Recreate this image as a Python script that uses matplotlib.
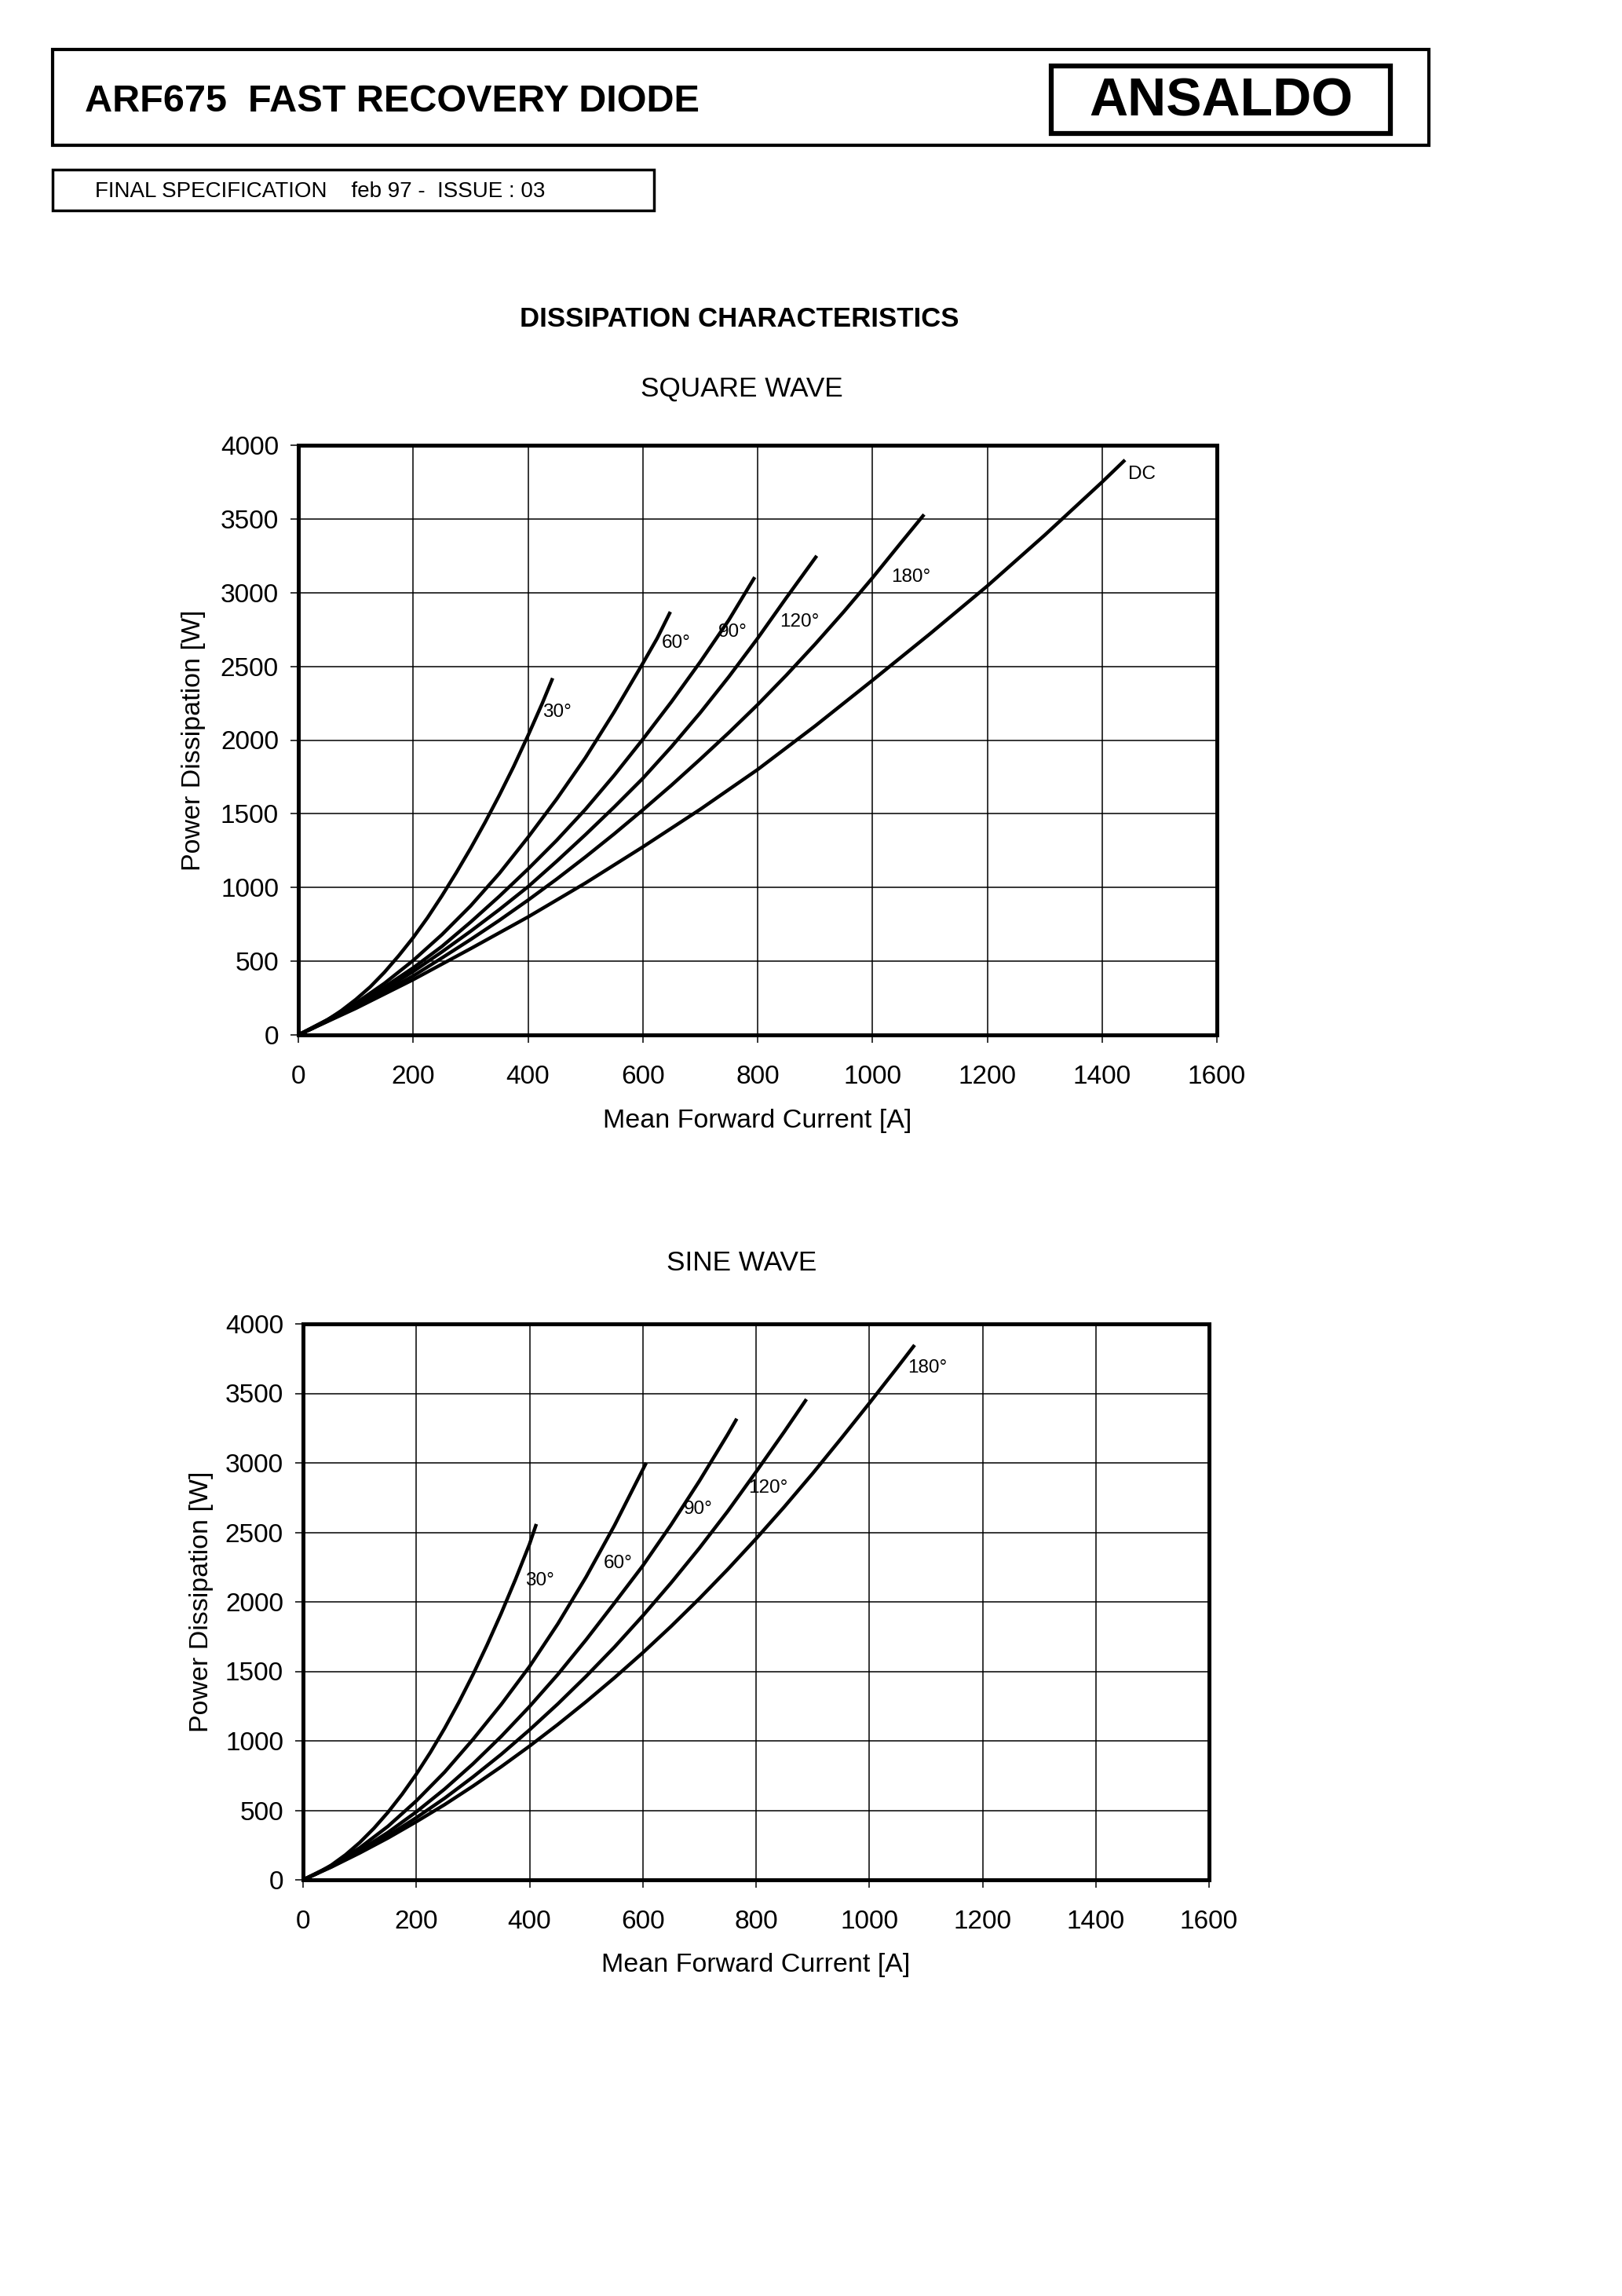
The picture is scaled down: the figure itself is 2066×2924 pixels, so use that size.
import matplotlib
matplotlib.use("Agg")
import matplotlib.pyplot as plt
from matplotlib.patches import Rectangle

plt.rcParams['font.family'] = ['Liberation Sans', 'DejaVu Sans']

# ---------------- data ----------------
x_ticks = [0, 200, 400, 600, 800, 1000, 1200, 1400, 1600]
y_ticks = [0, 500, 1000, 1500, 2000, 2500, 3000, 3500, 4000]

# Square wave: mean forward current [A] / power dissipation [W]
sq_30_i = [0, 25, 50, 75, 100, 125, 150, 175, 200, 225, 250, 275, 300, 325, 350, 375, 400, 425, 443]
sq_30_p = [0, 45, 100, 165, 240, 325, 425, 538, 660, 795, 943, 1100, 1265, 1440, 1625, 1820, 2030, 2250, 2420]
sq_60_i = [0, 50, 100, 150, 200, 250, 300, 350, 400, 450, 500, 550, 600, 625, 648]
sq_60_p = [0, 102, 215, 350, 505, 680, 875, 1095, 1340, 1600, 1880, 2190, 2520, 2690, 2870]
sq_90_i = [0, 50, 100, 150, 200, 250, 300, 350, 400, 450, 500, 550, 600, 650, 700, 750, 795]
sq_90_p = [0, 100, 205, 325, 455, 600, 765, 940, 1125, 1320, 1530, 1760, 2005, 2260, 2530, 2815, 3105]
sq_120_i = [0, 50, 100, 150, 200, 250, 300, 350, 400, 450, 500, 550, 600, 650, 700, 750, 800, 850, 903]
sq_120_p = [0, 95, 198, 310, 430, 563, 703, 850, 1005, 1178, 1358, 1545, 1740, 1955, 2185, 2430, 2690, 2965, 3250]
sq_180_i = [0, 50, 100, 150, 200, 250, 300, 350, 400, 450, 500, 550, 600, 650, 700, 750, 800, 850, 900, 950, 1000, 1050, 1090]
sq_180_p = [0, 92, 190, 294, 400, 522, 647, 777, 914, 1057, 1207, 1363, 1526, 1694, 1870, 2051, 2240, 2440, 2650, 2870, 3100, 3340, 3530]
sq_dc_i = [0, 100, 200, 300, 400, 500, 600, 700, 800, 900, 1000, 1100, 1200, 1300, 1400, 1440]
sq_dc_p = [0, 180, 375, 585, 800, 1030, 1275, 1530, 1800, 2095, 2405, 2720, 3045, 3390, 3750, 3900]

# Sine wave
sn_30_i = [0, 25, 50, 75, 100, 125, 150, 175, 200, 225, 250, 275, 300, 325, 350, 375, 400, 412]
sn_30_p = [0, 46, 106, 180, 268, 370, 486, 616, 760, 918, 1090, 1276, 1476, 1690, 1918, 2160, 2416, 2560]
sn_60_i = [0, 50, 100, 150, 200, 250, 300, 350, 400, 450, 500, 550, 606]
sn_60_p = [0, 102, 230, 385, 568, 775, 1010, 1262, 1535, 1842, 2180, 2550, 3000]
sn_90_i = [0, 50, 100, 150, 200, 250, 300, 350, 400, 450, 500, 550, 600, 650, 700, 750, 766]
sn_90_p = [0, 97, 211, 341, 489, 653, 834, 1032, 1247, 1478, 1728, 1992, 2260, 2555, 2870, 3205, 3318]
sn_120_i = [0, 50, 100, 150, 200, 250, 300, 350, 400, 450, 500, 550, 600, 650, 700, 750, 800, 850, 889]
sn_120_p = [0, 94, 200, 317, 447, 587, 740, 903, 1079, 1266, 1465, 1675, 1900, 2137, 2387, 2652, 2935, 3225, 3458]
sn_180_i = [0, 50, 100, 150, 200, 250, 300, 350, 400, 450, 500, 550, 600, 650, 700, 750, 800, 850, 900, 950, 1000, 1050, 1080]
sn_180_p = [0, 92, 193, 301, 418, 541, 674, 814, 962, 1118, 1282, 1454, 1634, 1824, 2024, 2234, 2454, 2684, 2924, 3174, 3429, 3689, 3848]

sq_curves = [(sq_30_i, sq_30_p), (sq_60_i, sq_60_p), (sq_90_i, sq_90_p),
             (sq_120_i, sq_120_p), (sq_180_i, sq_180_p), (sq_dc_i, sq_dc_p)]
sq_labels = ["30°", "60°", "90°", "120°", "180°", "DC"]
sq_label_pos = [(426, 2190), (633, 2660), (731, 2735), (839, 2800), (1033, 3106), (1446, 3802)]

sn_curves = [(sn_30_i, sn_30_p), (sn_60_i, sn_60_p), (sn_90_i, sn_90_p),
             (sn_120_i, sn_120_p), (sn_180_i, sn_180_p)]
sn_labels = ["30°", "60°", "90°", "120°", "180°"]
sn_label_pos = [(393, 2150), (530, 2275), (672, 2668), (786, 2820), (1068, 3685)]

W, H = 2066, 2924
fig = plt.figure(figsize=(W / 100, H / 100), dpi=100)


def fx(px):
    return px / W


def fy(py):
    return 1 - py / H


def rect(x0, y0, x1, y1, lw):
    fig.add_artist(Rectangle((fx(x0), fy(y1)), fx(x1) - fx(x0), fy(y0) - fy(y1),
                             transform=fig.transFigure, fill=False,
                             edgecolor='black', linewidth=lw))


# header
rect(67, 63, 1820, 185, 3.0)
rect(1339, 84, 1771, 170, 4.5)
fig.text(fx(108), fy(129), "ARF675  FAST RECOVERY DIODE", fontsize=35,
         fontweight='bold', ha='left', va='center')
fig.text(fx(1555), fy(129), "ANSALDO", fontsize=49, fontweight='bold',
         ha='center', va='center')
rect(67, 216, 833, 268, 2.5)
fig.text(fx(121), fy(244), "FINAL SPECIFICATION    feb 97 -  ISSUE : 03",
         fontsize=20, ha='left', va='center')
fig.text(fx(942), fy(407), "DISSIPATION CHARACTERISTICS", fontsize=25,
         fontweight='bold', ha='center', va='center')
fig.text(fx(945), fy(495), "SQUARE WAVE", fontsize=25.3, ha='center', va='center')
fig.text(fx(945), fy(1609), "SINE WAVE", fontsize=25.3, ha='center', va='center')


def make_axes(box, curves, labels, label_pos, xlab_y, ylab_x):
    x0, y0, x1, y1 = box
    ax = fig.add_axes([fx(x0), fy(y1), fx(x1) - fx(x0), fy(y0) - fy(y1)])
    for xs, ys in curves:
        ax.plot(xs, ys, color='black', linewidth=3.2, solid_capstyle='butt',
                solid_joinstyle='round', zorder=3)
    for lab, (lx, ly) in zip(labels, label_pos):
        ax.text(lx, ly, lab, fontsize=17.5, ha='left', va='center', zorder=4)
    ax.set_xlim(0, 1600)
    ax.set_ylim(0, 4000)
    ax.set_xticks(x_ticks)
    ax.set_yticks(y_ticks)
    ax.set_xticklabels([str(v) for v in x_ticks])
    ax.set_yticklabels([str(v) for v in y_ticks])
    ax.grid(True, color='black', linewidth=1.1)
    ax.set_axisbelow(True)
    for s in ax.spines.values():
        s.set_linewidth(3.6)
        s.set_color('black')
    ax.tick_params(axis='both', direction='out', length=7, width=1.1,
                   labelsize=24, colors='black')
    ax.tick_params(axis='x', pad=20)
    ax.tick_params(axis='y', pad=11)
    ax.set_xlabel("Mean Forward Current [A]", fontsize=24.5, va='center')
    ax.set_ylabel("Power Dissipation [W]", fontsize=24.5, va='center')
    ax.xaxis.set_label_coords(0.5, (y1 - xlab_y) / (y1 - y0))
    ax.yaxis.set_label_coords((ylab_x - x0) / (x1 - x0), 0.5)
    return ax


make_axes((380, 567, 1550, 1318), sq_curves, sq_labels, sq_label_pos, 1427, 247)
make_axes((386, 1686, 1540, 2394), sn_curves, sn_labels, sn_label_pos, 2502, 256)

fig.savefig("out.png", dpi=100, facecolor='white')
